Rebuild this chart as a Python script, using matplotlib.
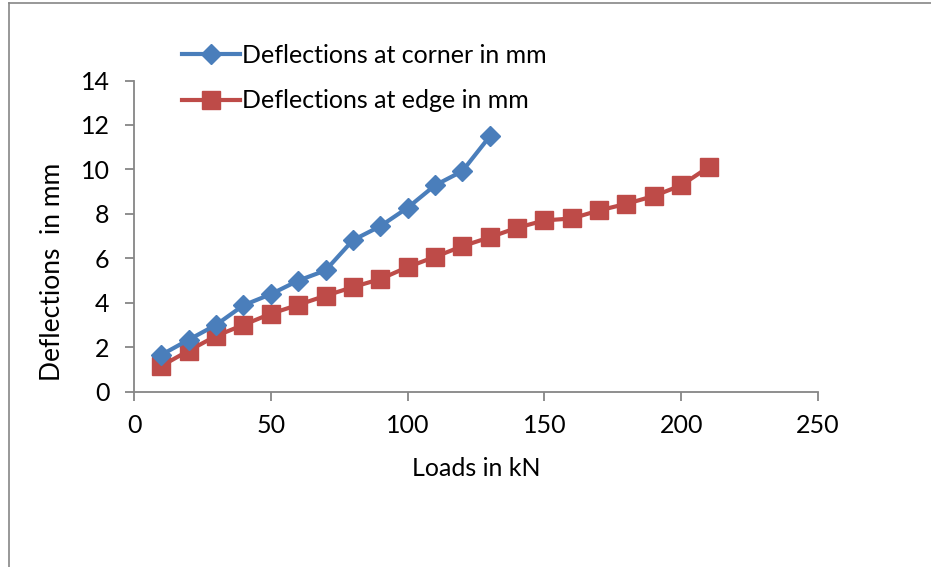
import matplotlib
matplotlib.use('Agg')
import matplotlib.pyplot as plt
from matplotlib.lines import Line2D

# 하중별 처짐 측정값
loads_corner = [10, 20, 30, 40, 50, 60, 70, 80, 90, 100, 110, 120, 130]
defl_corner = [1.65, 2.33, 3.0, 3.88, 4.38, 4.99, 5.45, 6.81, 7.44, 8.27, 9.28, 9.92, 11.48]

loads_edge = [10, 20, 30, 40, 50, 60, 70, 80, 90, 100, 110, 120, 130, 140,
              150, 160, 170, 180, 190, 200, 210]
defl_edge = [1.15, 1.84, 2.5, 3.0, 3.5, 3.9, 4.31, 4.7, 5.06, 5.6, 6.06, 6.54, 6.94, 7.37,
             7.7, 7.79, 8.15, 8.45, 8.8, 9.28, 10.1]

x_ticks = [0, 50, 100, 150, 200, 250]
y_ticks = [0, 2, 4, 6, 8, 10, 12, 14]

plt.rcParams['font.family'] = ['Lato', 'DejaVu Sans']

W, H = 931, 567
fig = plt.figure(figsize=(W / 100, H / 100), dpi=100)
ax = fig.add_axes([134 / W, 1 - 391.5 / H, (818 - 134) / W, (391.5 - 80.5) / H])

blue = '#4A7EBB'
red = '#BE4B48'
ax.plot(loads_corner, defl_corner, color=blue, lw=3.0, marker='D', ms=10,
        mfc=blue, mec=blue, label='Deflections at corner in mm', zorder=3)
ax.plot(loads_edge, defl_edge, color=red, lw=3.0, marker='s', ms=13.5,
        mfc=red, mec=red, label='Deflections at edge in mm', zorder=2)

ax.set_xlim(0, 250)
ax.set_ylim(0, 14)
ax.set_xticks(x_ticks)
ax.set_yticks(y_ticks)

axis_gray = '#868686'
for side in ['top', 'right']:
    ax.spines[side].set_visible(False)
for side in ['left', 'bottom']:
    ax.spines[side].set_color(axis_gray)
    ax.spines[side].set_linewidth(1.3)
ax.tick_params(axis='both', direction='out', length=6.5, width=1.3, color=axis_gray,
               labelsize=18, labelcolor='black')
ax.tick_params(axis='x', pad=10)
ax.tick_params(axis='y', pad=11)

ax.set_xlabel('Loads in kN', fontsize=18, va='center')
ax.xaxis.set_label_coords(0.5, (391.5 - 468) / 311)
ax.set_ylabel('Deflections  in mm', fontsize=19, va='center')
ax.yaxis.set_label_coords((53 - 134) / 684, (391.5 - 272) / 311)

ax.legend(loc='upper left', bbox_to_anchor=(182 / W, 1 - 44 / H),
          bbox_transform=fig.transFigure, frameon=False, fontsize=18,
          handlelength=2.3, handletextpad=0.1, labelspacing=0.9,
          borderpad=0, borderaxespad=0)

# 바깥 테두리
fig.add_artist(Line2D([8.5 / W, 8.5 / W], [0, 1 - 2.5 / H], color=axis_gray, lw=1.2))
fig.add_artist(Line2D([8.5 / W, 1], [1 - 2.5 / H, 1 - 2.5 / H], color=axis_gray, lw=1.2))

fig.savefig('out.png', dpi=100)
plt.close(fig)
